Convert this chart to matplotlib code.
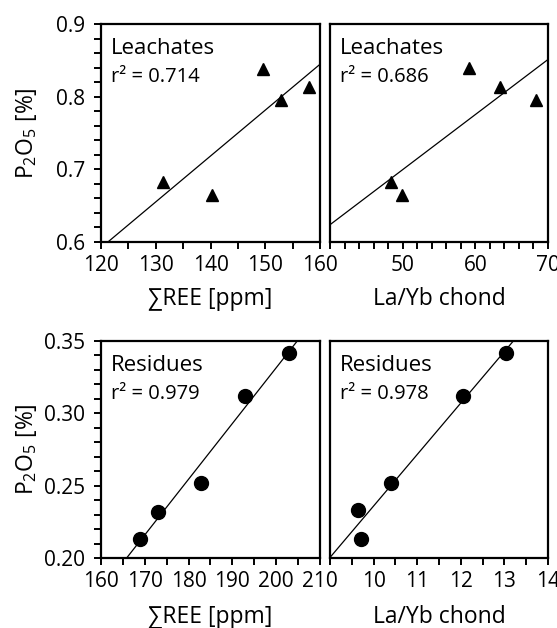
"""Four-panel scatter: P2O5 vs REE content and La/Yb, leachates and residues."""

import matplotlib

matplotlib.use("Agg")
import matplotlib.pyplot as plt
import numpy as np
from matplotlib.ticker import FuncFormatter, MultipleLocator

plt.rcParams["font.family"] = ["Open Sans", "DejaVu Sans"]
plt.rcParams["mathtext.fontset"] = "custom"
plt.rcParams["mathtext.rm"] = "Open Sans"

# Leachates
leach_ree = [131.3, 140.2, 149.6, 152.8, 158.0]
leach_ree_p2o5 = [0.682, 0.665, 0.838, 0.795, 0.813]
leach_layb = [48.4, 49.9, 59.1, 63.4, 68.4]
leach_layb_p2o5 = [0.683, 0.665, 0.839, 0.813, 0.795]
leach_r2 = ["0.714", "0.686"]

# Residues
res_ree = [168.9, 172.9, 182.8, 192.9, 202.9]
res_ree_p2o5 = [0.213, 0.232, 0.252, 0.312, 0.342]
res_layb = [9.64, 9.70, 10.40, 12.06, 13.04]
res_layb_p2o5 = [0.233, 0.213, 0.252, 0.312, 0.342]
res_r2 = ["0.979", "0.978"]

W, H = 557, 628
fig = plt.figure(figsize=(W / 100, H / 100), dpi=100)


def px_axes(x0, y0, x1, y1):
    return fig.add_axes([x0 / W, 1 - y1 / H, (x1 - x0) / W, (y1 - y0) / H])


def style(ax, xlim, ylim, xmaj, xmin, ymaj, ymin, yfmt, show_y, hide_first_x):
    ax.set_xlim(*xlim)
    ax.set_ylim(*ylim)
    for s in ax.spines.values():
        s.set_linewidth(1.6)
    ax.xaxis.set_major_locator(MultipleLocator(xmaj))
    ax.xaxis.set_minor_locator(MultipleLocator(xmin))
    ax.yaxis.set_major_locator(MultipleLocator(ymaj))
    ax.yaxis.set_minor_locator(MultipleLocator(ymin))
    if hide_first_x:
        ax.xaxis.set_major_formatter(
            FuncFormatter(lambda v, p: "" if abs(v - xlim[0]) < 1e-9 else f"{v:g}")
        )
    else:
        ax.xaxis.set_major_formatter(FuncFormatter(lambda v, p: f"{v:g}"))
    ax.yaxis.set_major_formatter(FuncFormatter(lambda v, p: yfmt.format(v)))
    ax.tick_params(axis="both", which="both", direction="out", width=1.4,
                   labelsize=15, length=5.2, top=False, right=False)
    ax.tick_params(axis="x", which="major", pad=4)
    ax.tick_params(axis="y", which="major", pad=6)
    if not show_y:
        ax.tick_params(axis="y", which="both", left=False, labelleft=False)


def panel(ax, x, y, marker, msize, title, r2):
    coef = np.polyfit(x, y, 1)
    xl = np.array(ax.get_xlim())
    ax.plot(xl, np.polyval(coef, xl), color="black", lw=0.9, zorder=2)
    ax.set_xlim(*xl)
    ax.plot(x, y, ls="none", marker=marker, ms=msize, color="black", zorder=3)
    ax.text(0.047, 0.861, title, transform=ax.transAxes, fontsize=16,
            va="baseline", ha="left")
    ax.text(0.047, 0.733, f"r² = {r2}", transform=ax.transAxes, fontsize=14.5,
            va="baseline", ha="left")


ylab = "P$_\\mathregular{2}$O$_\\mathregular{5}$ [%]"

ax1 = px_axes(101, 24, 320, 242)
style(ax1, (120, 160), (0.6, 0.9), 10, 5, 0.1, 0.02, "{:.1f}", True, False)
panel(ax1, leach_ree, leach_ree_p2o5, "^", 9, "Leachates", leach_r2[0])
ax1.set_xlabel("∑REE [ppm]", fontsize=16.5)
ax1.set_ylabel(ylab, fontsize=16.5)
ax1.xaxis.set_label_coords(0.5, -0.205)
ax1.yaxis.set_label_coords(-0.283, 0.5)

ax2 = px_axes(330, 24, 548, 242)
style(ax2, (40, 70), (0.6, 0.9), 10, 2, 0.1, 0.02, "{:.1f}", False, True)
panel(ax2, leach_layb, leach_layb_p2o5, "^", 9, "Leachates", leach_r2[1])
ax2.set_xlabel("La/Yb chond", fontsize=16.5)
ax2.xaxis.set_label_coords(0.5, -0.205)

ax3 = px_axes(101, 341, 320, 558)
style(ax3, (160, 210), (0.20, 0.35), 10, 5, 0.05, 0.01, "{:.2f}", True, False)
panel(ax3, res_ree, res_ree_p2o5, "o", 10, "Residues", res_r2[0])
ax3.set_xlabel("∑REE [ppm]", fontsize=16.5)
ax3.set_ylabel(ylab, fontsize=16.5)
ax3.xaxis.set_label_coords(0.5, -0.218)
ax3.yaxis.set_label_coords(-0.283, 0.5)

ax4 = px_axes(330, 341, 548, 558)
style(ax4, (9, 14), (0.20, 0.35), 1, 0.5, 0.05, 0.01, "{:.2f}", False, True)
panel(ax4, res_layb, res_layb_p2o5, "o", 10, "Residues", res_r2[1])
ax4.set_xlabel("La/Yb chond", fontsize=16.5)
ax4.xaxis.set_label_coords(0.5, -0.218)

fig.savefig("out.png", dpi=100)
